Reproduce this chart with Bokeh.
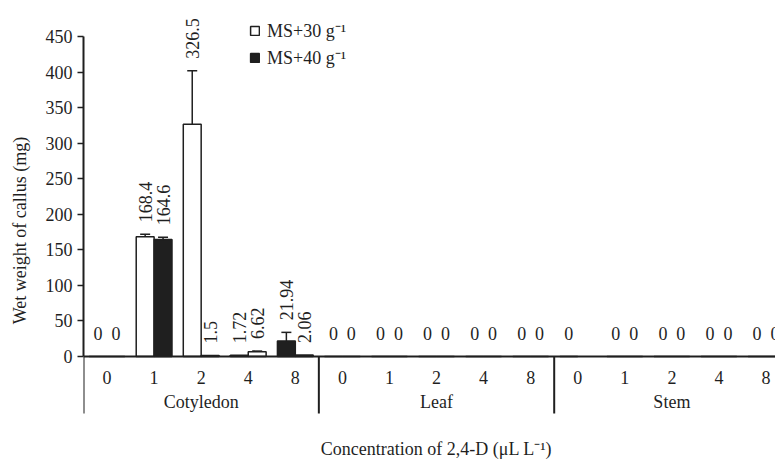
import math
import numpy as np
from bokeh.plotting import figure
from bokeh.models import (Range1d, FixedTicker, ColumnDataSource, Whisker, TeeHead,
                          Span, Legend, LegendItem)
from bokeh.core.properties import value
from bokeh.embed import file_html
from bokeh.resources import INLINE

# ---------------- data ----------------
explants = ["Cotyledon", "Leaf", "Stem"]
concentrations = ["0", "1", "2", "4", "8"]
# first and second bar of each pair, in drawing order (left, right)
ms30 = [0, 168.4, 326.5, 1.72, 21.94, 0, 0, 0, 0, 0, 0, 0, 0, 0, 0]
ms40 = [0, 164.6, 1.5, 6.62, 2.06, 0, 0, 0, 0, 0, float("nan"), 0, 0, 0, 0]
ms30_err = [0, 3.5, 75.5, 0, 12, 0, 0, 0, 0, 0, 0, 0, 0, 0, 0]
ms40_err = [0, 3, 0, 1, 0, 0, 0, 0, 0, 0, 0, 0, 0, 0, 0]
y_ticks = [0, 50, 100, 150, 200, 250, 300, 350, 400, 450]
series_names = ["MS+30 g\u207b\u00b9", "MS+40 g\u207b\u00b9"]

# ---------------- styles ----------------
DARK = "#1f1f1f"
fill_first = ["white", "white", "white", "white", DARK] + ["white"] * 10
fill_second = [DARK, DARK, DARK, "white", "white"] + [DARK] * 10
FONT = "Liberation Serif"
FS = "18px"

W, H = 775, 460
LEFT = 83
ZERO_PX = 356.0
TOP_PX = 36.0
ppu = (ZERO_PX - TOP_PX) / (y_ticks[-1] - y_ticks[0])
cat_px = 47.07
n_cat = len(explants) * len(concentrations)

p = figure(width=W, height=H, output_backend="svg", toolbar_location=None,
           x_range=Range1d(0, (W - LEFT) / cat_px),
           y_range=Range1d(-(H - ZERO_PX) / ppu, ZERO_PX / ppu),
           x_axis_type=None, min_border_left=LEFT, min_border_right=0,
           min_border_top=0, min_border_bottom=0)
p.outline_line_color = None
p.grid.visible = False
p.background_fill_color = "white"

ax = p.yaxis[0]
ax.bounds = (y_ticks[0], y_ticks[-1])
ax.ticker = FixedTicker(ticks=y_ticks)
ax.axis_line_width = 2
ax.axis_line_color = DARK
ax.major_tick_line_color = DARK
ax.major_tick_line_width = 1.5
ax.major_tick_out = 6
ax.major_tick_in = 0
ax.minor_tick_line_color = None
ax.major_label_text_font = FONT
ax.major_label_text_font_size = FS
ax.major_label_text_color = DARK
ax.major_label_standoff = 5
ax.axis_label = "Wet weight of callus (mg)"
ax.axis_label_text_font = FONT
ax.axis_label_text_font_size = FS
ax.axis_label_text_font_style = "normal"
ax.axis_label_text_color = DARK
ax.axis_label_standoff = 13

idx = np.arange(n_cat)
bw = 0.38
x1 = idx + 0.5 - bw / 2
x2 = idx + 0.5 + bw / 2

s1 = ColumnDataSource(dict(x=x1, top=ms30, fill=fill_first))
s2 = ColumnDataSource(dict(x=x2, top=ms40, fill=fill_second))
r1 = p.vbar(x="x", top="top", width=bw, bottom=0, source=s1, fill_color="fill",
            line_color=DARK, line_width=1.5)
r2 = p.vbar(x="x", top="top", width=bw, bottom=0, source=s2, fill_color="fill",
            line_color=DARK, line_width=1.5)

# error bars
ex, eu, el = [], [], []
for xs, vals, errs in ((x1, ms30, ms30_err), (x2, ms40, ms40_err)):
    for xx, v, e in zip(xs, vals, errs):
        if e and not math.isnan(v):
            ex.append(xx); eu.append(v + e); el.append(v - e)
es = ColumnDataSource(dict(base=ex, upper=eu, lower=el))
p.add_layout(Whisker(source=es, base="base", upper="upper", lower="lower",
                     line_color=DARK, line_width=1.5,
                     upper_head=TeeHead(size=10, line_color=DARK, line_width=1.5),
                     lower_head=TeeHead(size=10, line_color=DARK, line_width=1.5)))

# baseline (x axis line)
p.add_layout(Span(location=0, dimension="width", line_color=DARK, line_width=2))

# group separators
sep_x = [g * len(concentrations) for g in range(len(explants) + 1)]
sep_len = 57 / ppu
p.segment(x0=sep_x, y0=[0] * len(sep_x), x1=sep_x, y1=[-sep_len] * len(sep_x),
          line_color=DARK, line_width=2)

# value labels
zx, zt, vx, vy, vt = [], [], [], [], []
for xs, vals, errs in ((x1, ms30, ms30_err), (x2, ms40, ms40_err)):
    for xx, v, e in zip(xs, vals, errs):
        if math.isnan(v):
            continue
        if v == 0:
            zx.append(xx); zt.append(f"{v:g}")
        else:
            vx.append(xx); vy.append(v + e); vt.append(f"{v:g}")
p.text(x=zx, y=[0] * len(zx), text=zt, text_font=value(FONT), text_font_size=FS,
       text_color=DARK, text_align="center", text_baseline="alphabetic", y_offset=-23)
p.text(x=vx, y=vy, text=vt, text_font=value(FONT), text_font_size=FS,
       text_color=DARK, text_align="left", text_baseline="middle", angle=math.pi / 2,
       y_offset=-12)

# category tick labels
cx = idx + 0.5
ct = concentrations * len(explants)
p.text(x=cx, y=[0] * n_cat, text=ct, text_font=value(FONT), text_font_size=FS,
       text_color=DARK, text_align="center", text_baseline="alphabetic", y_offset=21)
gx = [g * len(concentrations) + len(concentrations) / 2 for g in range(len(explants))]
p.text(x=gx, y=[0] * len(gx), text=explants, text_font=value(FONT), text_font_size=FS,
       text_color=DARK, text_align="center", text_baseline="alphabetic", y_offset=45)
p.text(x=[n_cat / 2], y=[0], text=["Concentration of 2,4-D (\u03bcL L\u207b\u00b9)"],
       text_font=value(FONT), text_font_size=FS, text_color=DARK,
       text_align="center", text_baseline="alphabetic", y_offset=92)

legend = Legend(items=[LegendItem(label=series_names[0], renderers=[r1], index=1),
                       LegendItem(label=series_names[1], renderers=[r2], index=1)],
                location=(166, 391), glyph_width=11, glyph_height=11,
                label_standoff=7, label_height=20, spacing=3, padding=0, margin=0,
                border_line_color=None, background_fill_alpha=0,
                label_text_font=FONT, label_text_font_size=FS, label_text_color=DARK)
p.add_layout(legend)

open("out.html", "w").write(file_html(p, INLINE))
